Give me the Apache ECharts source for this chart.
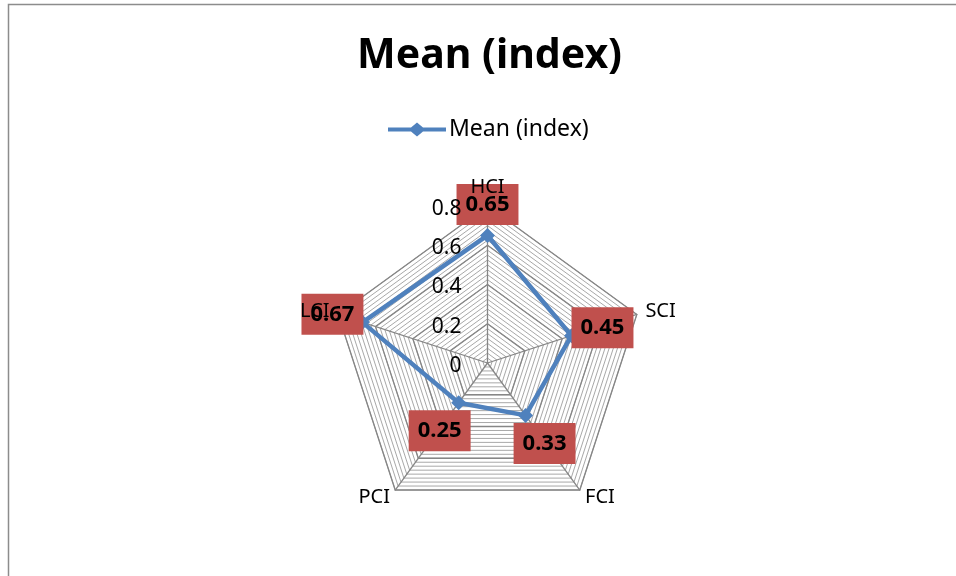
<!DOCTYPE html>
<html>
<head>
<meta charset="utf-8">
<title>Mean (index)</title>
<script src="https://cdn.jsdelivr.net/npm/echarts@6/dist/echarts.min.js"></script>
<style>
  html, body { margin: 0; padding: 0; background: #fff; }
  #chart { width: 956px; height: 576px; }
</style>
</head>
<body>
<div id="chart"></div>
<script>
// Indicators in drawing order (counter-clockwise from the top)
const indicators = ['HCI', 'LCI', 'PCI', 'FCI', 'SCI'];
// Mean index per indicator, same order
const meanValues = [0.65, 0.67, 0.25, 0.33, 0.45];
// Axis scale
const axisMax = 0.8;
const tickLabels = ['0', '0.2', '0.4', '0.6', '0.8'];
const seriesName = 'Mean (index)';

const FONT = 'Noto Sans';
const CENTER = [487.5, 363];
const RADIUS = 157;

// Offsets of the value boxes from their points, per indicator
const labelOffsets = [[0, -31], [-30, -8], [-19, 28], [19, 28], [31, -8]];

const plainIndicators = indicators.map((name) => ({ name: name, min: 0, max: axisMax }));

// The top axis carries the tick labels
const labelledIndicators = indicators.map((name, i) => {
  const def = { name: name, min: 0, max: axisMax };
  if (i === 0) {
    def.axisLabel = {
      show: true,
      color: '#000',
      fontFamily: FONT,
      fontSize: 21,
      margin: 26,
      verticalAlign: 'top',
      lineHeight: 6,
      formatter: (v) => {
        const k = Math.round(v / 0.2);
        return tickLabels[k] !== undefined && Math.abs(v - k * 0.2) < 1e-6 ? tickLabels[k] : '';
      }
    };
  }
  return def;
});

const chart = echarts.init(document.getElementById('chart'), null, { renderer: 'canvas' });

chart.setOption({
  backgroundColor: '#fff',
  animation: false,
  title: {
    text: seriesName,
    left: 352,
    top: 31,
    textStyle: { fontFamily: FONT, fontWeight: 'bold', fontSize: 41, color: '#000' }
  },
  legend: {
    data: [seriesName],
    top: 113,
    left: 383,
    itemWidth: 58,
    itemHeight: 14,
    itemGap: 10,
    icon: 'path://M0,5 H23 L29,0 L35,5 H58 V9 H35 L29,14 L23,9 H0 Z',
    textStyle: { fontFamily: FONT, fontSize: 23, color: '#000', padding: [0, 0, 0, -2] }
  },
  graphic: [{
    type: 'rect',
    shape: { x: 8.5, y: 4.5, width: 960, height: 600 },
    style: { fill: 'none', stroke: '#8c8c8c', lineWidth: 1.5 },
    silent: true,
    z: 100
  }],
  radar: [
    {
      // fine rings
      center: CENTER,
      radius: RADIUS,
      startAngle: 90,
      shape: 'polygon',
      splitNumber: 32,
      indicator: plainIndicators,
      axisName: { show: false },
      axisLine: { show: false },
      axisTick: { show: false },
      axisLabel: { show: false },
      splitArea: { show: false },
      splitLine: { lineStyle: { color: '#a8a8a8', width: 1 } },
      silent: true
    },
    {
      // main rings and spokes
      center: CENTER,
      radius: RADIUS,
      startAngle: 90,
      shape: 'polygon',
      splitNumber: 4,
      indicator: plainIndicators,
      axisName: { show: false },
      axisLine: { show: true, lineStyle: { color: '#868686', width: 1.3 } },
      axisTick: { show: false },
      axisLabel: { show: false },
      splitArea: { show: false },
      splitLine: { lineStyle: { color: '#868686', width: 1.3 } }
    },
    {
      // indicator names and tick labels, drawn above the value boxes
      center: CENTER,
      radius: RADIUS,
      startAngle: 90,
      shape: 'polygon',
      splitNumber: 4,
      z: 20,
      nameGap: 9,
      indicator: labelledIndicators,
      axisName: { color: '#000', fontFamily: FONT, fontSize: 20 },
      axisLine: { show: false },
      axisTick: { show: false },
      axisLabel: { show: false },
      splitArea: { show: false },
      splitLine: { show: false },
      silent: true
    }
  ],
  polar: {
    center: CENTER,
    radius: RADIUS
  },
  angleAxis: {
    type: 'category',
    data: indicators,
    startAngle: 90,
    clockwise: false,
    boundaryGap: false,
    show: false
  },
  radiusAxis: {
    type: 'value',
    min: 0,
    max: axisMax,
    show: false
  },
  series: [
    {
      name: seriesName,
      type: 'radar',
      radarIndex: 1,
      symbol: 'diamond',
      symbolSize: 15,
      z: 5,
      lineStyle: { color: '#4F81BD', width: 4.5 },
      itemStyle: { color: '#4F81BD' },
      data: [{ name: seriesName, value: meanValues }]
    },
    {
      // value boxes at each point
      type: 'scatter',
      coordinateSystem: 'polar',
      symbolSize: 1,
      itemStyle: { color: 'rgba(0,0,0,0)', opacity: 1 },
      z: 10,
      silent: true,
      label: {
        show: true,
        position: 'inside',
        color: '#000',
        opacity: 1,
        fontFamily: FONT,
        fontWeight: 'bold',
        fontSize: 22,
        backgroundColor: '#C0504D',
        padding: [11, 9, 8, 9],
        formatter: (p) => String(p.value[0])
      },
      data: meanValues.map((v, i) => ({
        value: [v, indicators[i]],
        label: { offset: labelOffsets[i] }
      }))
    }
  ]
});
</script>
</body>
</html>
